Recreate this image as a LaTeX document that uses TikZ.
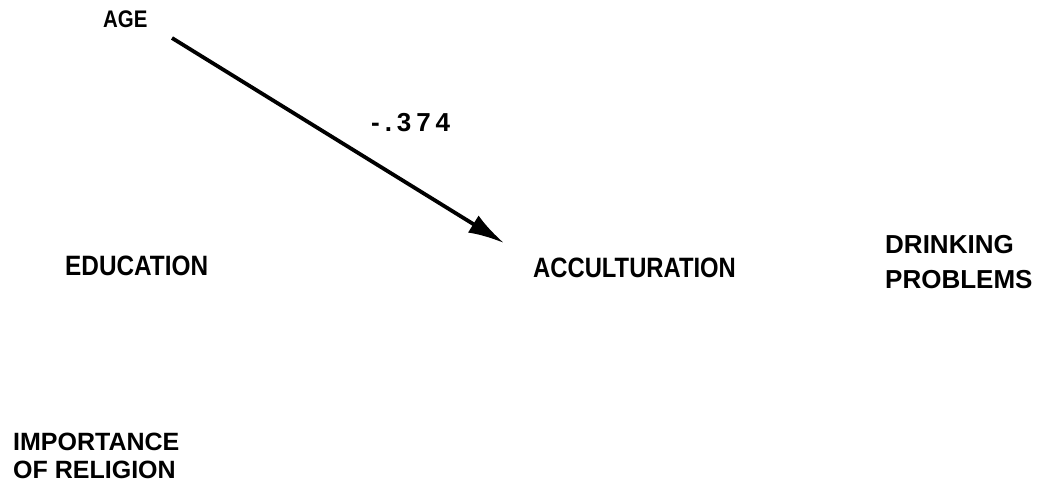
\documentclass[tikz,border=0pt]{standalone}
\usepackage{fontspec}
\setmainfont{Liberation Sans}
\usetikzlibrary{arrows.meta}
\newcommand{\cnd}[2][0.86]{\scalebox{#1}[1]{#2}}
\tikzset{
  lbl/.style={inner sep=0pt, anchor=base west, font=\fontsize{28}{34}\selectfont\bfseries},
  two/.style={inner sep=0pt, anchor=base west, align=left},
  path/.style={line width=3.8pt, -{Latex[length=36pt,width=20pt]}},
}
\begin{document}
\begin{tikzpicture}[x=1pt,y=-1pt]
\useasboundingbox (0,0) rectangle (1041,489);
\node[lbl, font=\fontsize{24}{28}\selectfont\bfseries] (age) at (103,28) {\cnd[0.85]{AGE}};
\node[lbl] (edu) at (65,275) {\cnd[0.87]{EDUCATION}};
\node[lbl] (acc) at (533,277) {\cnd[0.85]{ACCULTURATION}};
\node[two, font=\fontsize{26}{35}\selectfont\bfseries] (drink) at (885,288) {DRINKING\\PROBLEMS};
\node[two, font=\fontsize{25}{28}\selectfont\bfseries] (rel) at (13,478) {IMPORTANCE\\OF RELIGION};
\coordinate (s) at (172,38);
\coordinate (e) at (504,243);
\draw[path] (s) -- (e);
\node[inner sep=0pt, anchor=base west, font=\fontsize{26}{30}\selectfont\bfseries\addfontfeature{LetterSpace=19}] (coef) at (371,132) {-.374};
\end{tikzpicture}
\end{document}
